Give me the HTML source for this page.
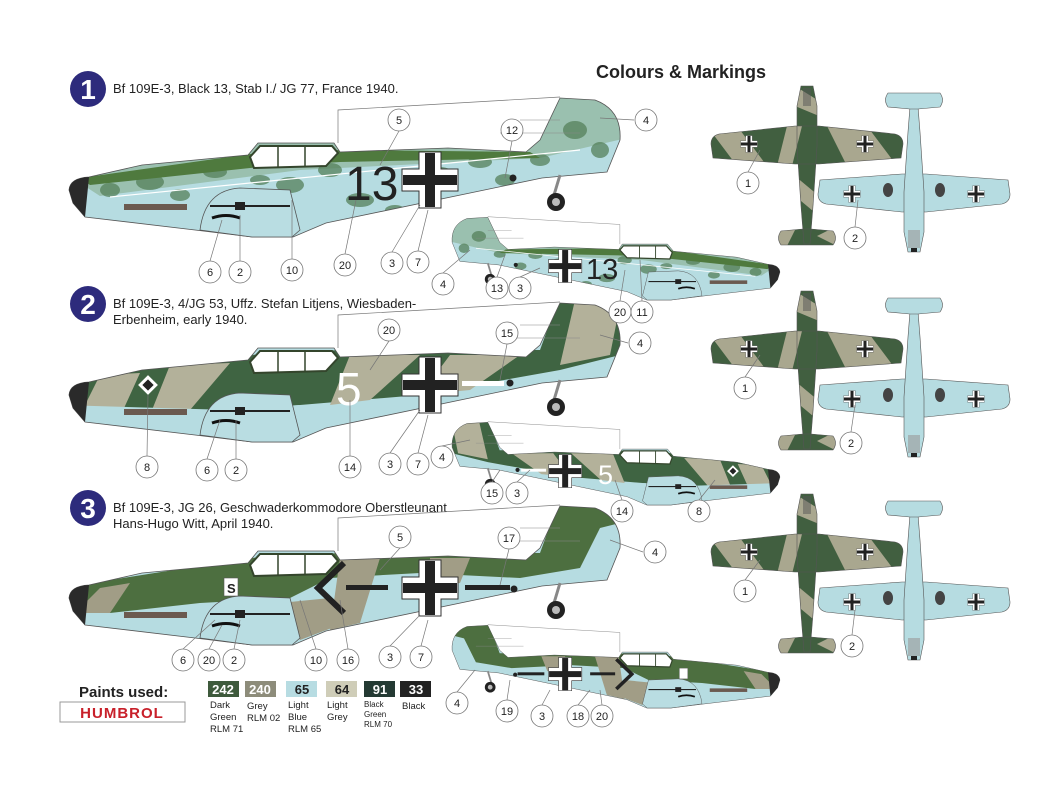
<!DOCTYPE html>
<html><head><meta charset="utf-8"><style>
body{margin:0;background:#fff}
svg{display:block}
text{font-family:"Liberation Sans",sans-serif}
.c circle{fill:#fff;stroke:#777;stroke-width:.8}
.c text{font-size:11px;text-anchor:middle;fill:#222}
.ld{stroke:#777;stroke-width:.7;fill:none}
</style></head><body>
<svg width="1060" height="795" viewBox="0 0 1060 795" xmlns="http://www.w3.org/2000/svg">
<defs>
<path id="fus" d="M69,190 Q70,178 89,177 L142,165 L248,155 L258,143 L334,143 L340,152 L448,148 L526,152 L540,140 L560,98 L595,100 Q622,110 620,140 L607,172 L542,178 L326,223 L293,237 L252,237 L195,230 L85,217 L73,203 Z"/>
<clipPath id="fc"><use href="#fus"/></clipPath>
<g id="bk">
 <path d="M-11,-28h22v17h17v22h-17v17h-22v-17h-17v-22h17z" fill="#fff" stroke="#333" stroke-width="1"/>
 <rect x="-27" y="-5" width="54" height="10" fill="#222"/><rect x="-5" y="-27" width="10" height="54" fill="#222"/>
</g>
<g id="det">
 <path d="M69,190 Q70,178 89,177 L85,217 L73,203Z" fill="#2a2a2a"/>
 <rect x="124" y="204" width="63" height="6" fill="#6b5a50"/>
 <path d="M250,157 L260,146 L332,146 L338,153 L326,166 L254,168Z" fill="#fff" stroke="#34452c" stroke-width="2"/>
 <path d="M278,147 v20 M305,147 v19" stroke="#34452c" stroke-width="1.5"/>
 <path d="M200,230 Q205,190 240,188 L290,190 L300,230 L292,237 L252,237Z" fill="#b9dde2" stroke="#555" stroke-width=".8"/>
 <path d="M210,206 h80" stroke="#222" stroke-width="2"/><rect x="235" y="202" width="10" height="8" fill="#222"/>
 <path d="M212,218 q14,-5 28,0" stroke="#111" stroke-width="3" fill="none"/>
 <path d="M560,175 l-6,20" stroke="#888" stroke-width="3"/>
 <circle cx="556" cy="202" r="9" fill="#222"/><circle cx="556" cy="202" r="4" fill="#bbb"/>
 <path d="M338,143 L338,110 L560,97" class="ld"/>
 <path d="M520,120 l40,0 M500,133 l80,0" stroke="#888" stroke-width=".6"/>
</g>
<g id="p1">
 <use href="#fus" fill="#b6dce1"/>
 <g clip-path="url(#fc)">
  <path d="M60,170 L600,80 L640,80 L640,135 L540,158 L300,170 L100,196 Z" fill="#8fb49a" opacity=".7"/>
  <g fill="#54805a" opacity=".75">
   <ellipse cx="110" cy="190" rx="10" ry="7"/><ellipse cx="150" cy="182" rx="14" ry="8"/><ellipse cx="180" cy="195" rx="10" ry="6"/>
   <ellipse cx="215" cy="172" rx="12" ry="6"/><ellipse cx="290" cy="185" rx="14" ry="8"/><ellipse cx="330" cy="170" rx="12" ry="7"/>
   <ellipse cx="360" cy="200" rx="14" ry="7"/><ellipse cx="440" cy="175" rx="14" ry="8"/><ellipse cx="480" cy="162" rx="12" ry="6"/>
   <ellipse cx="505" cy="180" rx="10" ry="6"/><ellipse cx="540" cy="160" rx="10" ry="6"/><ellipse cx="575" cy="130" rx="12" ry="9"/>
   <ellipse cx="600" cy="150" rx="9" ry="8"/><ellipse cx="395" cy="210" rx="10" ry="5"/><ellipse cx="260" cy="180" rx="10" ry="5"/>
  </g>
  <path d="M80,178 L250,154 L340,150 L530,152 L540,158 L340,162 L250,168 L90,185Z" fill="#4f7a3e"/>
  <path d="M110,197 L580,150" stroke="#fff" stroke-width="1.2"/>
 </g>
 <use href="#fus" fill="none" stroke="#555" stroke-width=".8"/>
 <use href="#det"/>
 <use href="#bk" transform="translate(430,180)"/>
 <circle cx="513" cy="178" r="3.5" fill="#222"/>
</g>
<g id="p2">
 <use href="#fus" fill="#b6dce1"/>
 <g clip-path="url(#fc)">
  <path d="M60,175 L250,150 L340,145 L540,145 L560,90 L640,90 L640,145 L560,165 L420,190 L300,200 L120,212 L60,210Z" fill="#3f6442"/>
  <path d="M100,170 L140,168 L120,212 L80,210Z M170,160 L230,158 L190,205 L150,210Z M350,150 L420,150 L370,195 L330,200Z M450,150 L520,150 L470,185 L420,190Z M575,95 L620,100 L610,150 L560,160Z" fill="#b3b19a"/>
  <path d="M60,200 L230,205 L300,200 L200,240 L60,240Z" fill="#b6dce1"/>
 </g>
 <use href="#fus" fill="none" stroke="#555" stroke-width=".8"/>
 <use href="#det"/>
 <rect x="141" y="173" width="14" height="14" fill="#fff" transform="rotate(45 148 180)"/><rect x="144" y="176" width="8" height="8" fill="#222" transform="rotate(45 148 180)"/>
 <use href="#bk" transform="translate(430,180)"/>
 <rect x="462" y="176" width="42" height="5" fill="#fff"/>
 <circle cx="510" cy="178" r="3.5" fill="#222"/>
</g>
<g id="p3">
 <use href="#fus" fill="#b6dce1"/>
 <g clip-path="url(#fc)">
  <path d="M60,180 L250,150 L340,145 L540,145 L560,90 L640,90 L640,110 L600,120 L580,160 L520,170 L420,165 L330,170 L290,190 L200,195 L110,205 L60,205Z" fill="#4d6f40"/>
  <path d="M100,180 L130,175 L110,205 L75,205Z M340,150 L380,150 L360,215 L330,222 Z M430,150 L470,150 L460,175 L430,175Z" fill="#a19d86"/>
  <path d="M280,195 L330,190 L345,215 L300,232Z" fill="#a19d86"/>
 </g>
 <use href="#fus" fill="none" stroke="#555" stroke-width=".8"/>
 <use href="#det"/>
 <path d="M344,155 L318,180 L344,205" stroke="#222" stroke-width="6" fill="none"/>
 <rect x="346" y="177" width="42" height="5" fill="#222"/>
 <use href="#bk" transform="translate(430,180)"/>
 <rect x="465" y="177" width="45" height="5" fill="#222"/>
 <circle cx="514" cy="181" r="3.5" fill="#222"/>
 <rect x="224" y="170" width="14" height="18" fill="#fff" stroke="#555" stroke-width=".6"/>
</g>
<g id="tvs">
 <path d="M-96,58 Q-96,50 -88,48 L-12,40 L12,40 L88,48 Q96,50 96,58 L94,72 L12,78 L-12,78 L-94,72Z"/>
 <path d="M-6,0 L6,0 L10,20 L10,60 L6,120 L3,158 L-3,158 L-6,120 L-10,60 L-10,20Z"/>
 <path d="M-4,143 L-26,145 Q-31,152 -26,159 L26,159 Q31,152 26,145 L4,143Z"/>
</g>
<clipPath id="tc">
 <path d="M-96,58 Q-96,50 -88,48 L-12,40 L12,40 L88,48 Q96,50 96,58 L94,72 L12,78 L-12,78 L-94,72Z"/>
 <path d="M-6,0 L6,0 L10,20 L10,60 L6,120 L3,158 L-3,158 L-6,120 L-10,60 L-10,20Z"/>
 <path d="M-4,143 L-26,145 Q-31,152 -26,159 L26,159 Q31,152 26,145 L4,143Z"/>
</clipPath>
<g id="top">
 <use href="#tvs" fill="#415f40"/>
 <g clip-path="url(#tc)" fill="#a9a78f">
  <path d="M-100,40 L-70,40 L-40,80 L-70,80Z M-20,40 L-5,40 L-15,80 L-30,80Z M20,40 L60,40 L90,80 L40,80Z M-12,90 L12,110 L12,130 L-12,110Z M-30,140 L-10,140 L-20,160 L-35,160Z M10,150 L30,140 L30,160Z M-12,0 L12,15 L12,30 L-12,20Z"/>
 </g>
 <use href="#tvs" fill="none" stroke="#555" stroke-width=".6"/>
 <use href="#bk" transform="translate(-58,58) scale(.3)"/><use href="#bk" transform="translate(58,58) scale(.3)"/>
 <rect x="-4" y="2" width="8" height="18" fill="#555" opacity=".5"/>
</g>
<g id="bot">
 <use href="#tvs" fill="#b6dce1" stroke="#555" stroke-width=".6"/>
 <use href="#bk" transform="translate(-62,58) scale(.3)"/><use href="#bk" transform="translate(62,58) scale(.3)"/>
 <ellipse cx="-26" cy="62" rx="5" ry="7" fill="#444"/><ellipse cx="26" cy="62" rx="5" ry="7" fill="#444"/>
 <rect x="-6" y="4" width="12" height="18" fill="#999" opacity=".6"/>
 <rect x="-3" y="0" width="6" height="4" fill="#222"/>
</g>
</defs>

<text x="596" y="78" font-size="18" font-weight="bold" fill="#222">Colours &amp; Markings</text>

<g font-weight="bold" font-size="28" fill="#fff" text-anchor="middle">
<circle cx="88" cy="89" r="18" fill="#2d2b7c"/><text x="88" y="99" font-family="Liberation Serif,serif">1</text>
<circle cx="88" cy="304" r="18" fill="#2d2b7c"/><text x="88" y="314" font-family="Liberation Serif,serif">2</text>
<circle cx="88" cy="508" r="18" fill="#2d2b7c"/><text x="88" y="518" font-family="Liberation Serif,serif">3</text>
</g>
<g font-size="13" fill="#222">
<text x="113" y="93">Bf 109E-3, Black 13, Stab I./ JG 77, France 1940.</text>
<text x="113" y="308">Bf 109E-3, 4/JG 53, Uffz. Stefan Litjens, Wiesbaden-</text>
<text x="113" y="324">Erbenheim, early 1940.</text>
<text x="113" y="512">Bf 109E-3, JG 26, Geschwaderkommodore Oberstleunant</text>
<text x="113" y="528">Hans-Hugo Witt, April 1940.</text>
</g>

<use href="#p1"/>
<use href="#p1" transform="translate(821,159) scale(-0.595,0.595)"/>
<use href="#p2" transform="translate(0,205)"/>
<use href="#p2" transform="translate(821,364) scale(-0.595,0.595)"/>
<use href="#p3" transform="translate(0,408)"/>
<use href="#p3" transform="translate(821,567) scale(-0.595,0.595)"/>

<text x="345" y="200" font-size="48" fill="#222">13</text>
<text x="586" y="279" font-size="29" fill="#222">13</text>
<text x="336" y="405" font-size="46" fill="#fff">5</text>
<text x="598" y="484" font-size="27" fill="#fff">5</text>
<text x="227" y="593" font-size="13" font-weight="bold" fill="#222">S</text>

<use href="#top" transform="translate(807,86)"/>
<use href="#bot" transform="translate(914,252) scale(1,-1)"/>
<use href="#top" transform="translate(807,291)"/>
<use href="#bot" transform="translate(914,457) scale(1,-1)"/>
<use href="#top" transform="translate(807,494)"/>
<use href="#bot" transform="translate(914,660) scale(1,-1)"/>

<g class="ld">
<path d="M210,261 L222,220 M240,261 L240,215 M292,259 L292,200 M345,254 L356,200 M392,252 L420,205 M418,251 L428,210 M399,131 L380,165 M512,141 L505,178 M634,120 L600,118 M748,172 L760,150 M855,227 L858,200 M443,273 L470,250 M497,277 L505,255 M520,277 L540,268 M620,301 L625,270 M642,301 L640,260"/>
<path d="M389,341 L370,370 M507,344 L500,380 M628,343 L600,335 M745,377 L760,355 M851,432 L855,405 M147,456 L148,395 M207,459 L220,420 M236,459 L236,420 M350,456 L350,400 M390,453 L420,410 M418,453 L428,415 M442,446 L470,440 M492,482 L500,470 M517,482 L530,470 M622,500 L615,480 M699,500 L715,480"/>
<path d="M400,548 L380,570 M509,549 L500,585 M643,552 L610,540 M745,580 L760,560 M852,635 L855,610 M183,649 L215,620 M209,649 L222,625 M234,649 L240,620 M316,649 L300,600 M348,649 L340,600 M390,646 L420,615 M421,646 L428,620 M457,692 L475,670 M507,700 L510,680 M542,705 L550,690 M578,705 L590,690 M602,705 L600,690"/>
</g>

<g class="c">
<g transform="translate(399,120)"><circle r="11"/><text y="4">5</text></g>
<g transform="translate(512,130)"><circle r="11"/><text y="4">12</text></g>
<g transform="translate(646,120)"><circle r="11"/><text y="4">4</text></g>
<g transform="translate(748,183)"><circle r="11"/><text y="4">1</text></g>
<g transform="translate(855,238)"><circle r="11"/><text y="4">2</text></g>
<g transform="translate(210,272)"><circle r="11"/><text y="4">6</text></g>
<g transform="translate(240,272)"><circle r="11"/><text y="4">2</text></g>
<g transform="translate(292,270)"><circle r="11"/><text y="4">10</text></g>
<g transform="translate(345,265)"><circle r="11"/><text y="4">20</text></g>
<g transform="translate(392,263)"><circle r="11"/><text y="4">3</text></g>
<g transform="translate(418,262)"><circle r="11"/><text y="4">7</text></g>
<g transform="translate(443,284)"><circle r="11"/><text y="4">4</text></g>
<g transform="translate(497,288)"><circle r="11"/><text y="4">13</text></g>
<g transform="translate(520,288)"><circle r="11"/><text y="4">3</text></g>
<g transform="translate(620,312)"><circle r="11"/><text y="4">20</text></g>
<g transform="translate(642,312)"><circle r="11"/><text y="4">11</text></g>

<g transform="translate(389,330)"><circle r="11"/><text y="4">20</text></g>
<g transform="translate(507,333)"><circle r="11"/><text y="4">15</text></g>
<g transform="translate(640,343)"><circle r="11"/><text y="4">4</text></g>
<g transform="translate(745,388)"><circle r="11"/><text y="4">1</text></g>
<g transform="translate(851,443)"><circle r="11"/><text y="4">2</text></g>
<g transform="translate(147,467)"><circle r="11"/><text y="4">8</text></g>
<g transform="translate(207,470)"><circle r="11"/><text y="4">6</text></g>
<g transform="translate(236,470)"><circle r="11"/><text y="4">2</text></g>
<g transform="translate(350,467)"><circle r="11"/><text y="4">14</text></g>
<g transform="translate(390,464)"><circle r="11"/><text y="4">3</text></g>
<g transform="translate(418,464)"><circle r="11"/><text y="4">7</text></g>
<g transform="translate(442,457)"><circle r="11"/><text y="4">4</text></g>
<g transform="translate(492,493)"><circle r="11"/><text y="4">15</text></g>
<g transform="translate(517,493)"><circle r="11"/><text y="4">3</text></g>
<g transform="translate(622,511)"><circle r="11"/><text y="4">14</text></g>
<g transform="translate(699,511)"><circle r="11"/><text y="4">8</text></g>

<g transform="translate(400,537)"><circle r="11"/><text y="4">5</text></g>
<g transform="translate(509,538)"><circle r="11"/><text y="4">17</text></g>
<g transform="translate(655,552)"><circle r="11"/><text y="4">4</text></g>
<g transform="translate(745,591)"><circle r="11"/><text y="4">1</text></g>
<g transform="translate(852,646)"><circle r="11"/><text y="4">2</text></g>
<g transform="translate(183,660)"><circle r="11"/><text y="4">6</text></g>
<g transform="translate(209,660)"><circle r="11"/><text y="4">20</text></g>
<g transform="translate(234,660)"><circle r="11"/><text y="4">2</text></g>
<g transform="translate(316,660)"><circle r="11"/><text y="4">10</text></g>
<g transform="translate(348,660)"><circle r="11"/><text y="4">16</text></g>
<g transform="translate(390,657)"><circle r="11"/><text y="4">3</text></g>
<g transform="translate(421,657)"><circle r="11"/><text y="4">7</text></g>
<g transform="translate(457,703)"><circle r="11"/><text y="4">4</text></g>
<g transform="translate(507,711)"><circle r="11"/><text y="4">19</text></g>
<g transform="translate(542,716)"><circle r="11"/><text y="4">3</text></g>
<g transform="translate(578,716)"><circle r="11"/><text y="4">18</text></g>
<g transform="translate(602,716)"><circle r="11"/><text y="4">20</text></g>
</g>

<text x="79" y="697" font-size="15" font-weight="bold" fill="#222">Paints used:</text>
<rect x="60" y="702" width="125" height="20" fill="#fff" stroke="#999"/>
<text x="122" y="718" font-size="15" font-weight="bold" fill="#c8202a" text-anchor="middle" font-family="Liberation Serif,serif" letter-spacing="1">HUMBROL</text>
<g font-size="13" font-weight="bold" text-anchor="middle">
<rect x="208" y="681" width="31" height="16" fill="#3e5a3c"/><text x="223" y="694" fill="#fff">242</text>
<rect x="245" y="681" width="31" height="16" fill="#8d8c7a"/><text x="260" y="694" fill="#fff">240</text>
<rect x="286" y="681" width="31" height="16" fill="#b7dce2"/><text x="302" y="694" fill="#222">65</text>
<rect x="326" y="681" width="31" height="16" fill="#cfcdb8"/><text x="342" y="694" fill="#222">64</text>
<rect x="364" y="681" width="31" height="16" fill="#243a33"/><text x="380" y="694" fill="#fff">91</text>
<rect x="400" y="681" width="31" height="16" fill="#222"/><text x="416" y="694" fill="#fff">33</text>
</g>
<g font-size="9.5" fill="#222">
<text x="210" y="708">Dark</text><text x="210" y="720">Green</text><text x="210" y="732">RLM 71</text>
<text x="247" y="709">Grey</text><text x="247" y="721">RLM 02</text>
<text x="288" y="708">Light</text><text x="288" y="720">Blue</text><text x="288" y="732">RLM 65</text>
<text x="327" y="708">Light</text><text x="327" y="720">Grey</text>
<text x="364" y="707" font-size="8">Black</text><text x="364" y="717" font-size="8">Green</text><text x="364" y="727" font-size="8">RLM 70</text>
<text x="402" y="709">Black</text>
</g>
</svg>
</body></html>
